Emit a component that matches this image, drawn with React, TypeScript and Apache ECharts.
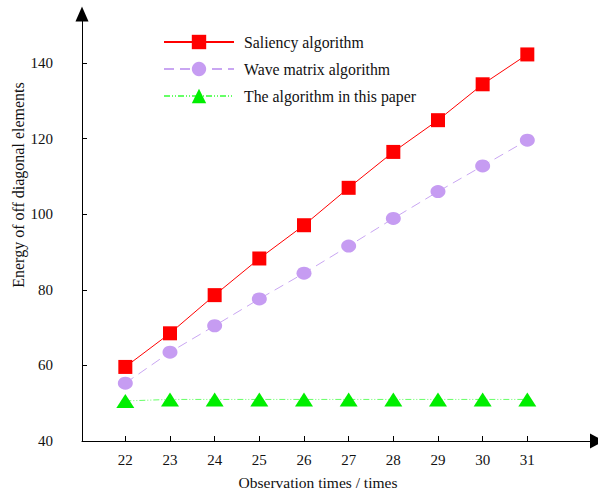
import React, { useEffect, useRef } from "react";
import * as echarts from "echarts";

const categories = [22, 23, 24, 25, 26, 27, 28, 29, 30, 31];
const saliency = [59.6, 68.5, 78.6, 88.3, 97.1, 107.0, 116.5, 124.9, 134.4, 142.3];
const waveMatrix = [55.3, 63.5, 70.5, 77.6, 84.4, 91.6, 98.9, 106.0, 112.8, 119.6];
const thisPaper = [50.6, 51, 51, 51, 51, 51, 51, 51, 51, 51];

const FONT = "'Liberation Serif', 'Times New Roman', serif";

export default function App() {
  const ref = useRef<HTMLDivElement>(null);
  useEffect(() => {
    if (!ref.current) return;
    const chart = echarts.init(ref.current, null, { renderer: "svg" });
    const pair = (arr: number[]) => categories.map((c, i) => [c, arr[i]]);
    chart.setOption({
      animation: false,
      backgroundColor: "#ffffff",
      textStyle: { fontFamily: FONT },
      grid: { left: 82, right: 1, top: 14, bottom: 49, containLabel: false, outerBoundsMode: "none" },
      legend: {
        orient: "vertical",
        left: 163,
        top: 34,
        padding: 0,
        itemWidth: 70,
        itemHeight: 18,
        itemGap: 11,
        textStyle: { fontFamily: FONT, fontSize: 15.8, color: "#111", padding: [0, 0, 0, 5] },
        data: ["Saliency algorithm", "Wave matrix algorithm", "The algorithm in this paper"],
      },
      xAxis: {
        type: "value",
        min: 21.03,
        max: 32.56,
        splitLine: { show: false },
        axisLine: {
          show: true,
          lineStyle: { color: "#000", width: 1 },
          symbol: ["none", "triangle"],
          symbolSize: [15, 14],
        },
        axisTick: { show: true, inside: true, length: 5, customValues: categories, lineStyle: { color: "#000" } },
        axisLabel: {
          customValues: categories,
          margin: 11,
          fontFamily: FONT,
          fontSize: 15,
          color: "#111",
        },
      },
      yAxis: {
        type: "value",
        min: 40,
        max: 153,
        interval: 20,
        splitLine: { show: false },
        axisLine: {
          show: true,
          lineStyle: { color: "#000", width: 1 },
          symbol: ["none", "triangle"],
          symbolSize: [13, 15],
        },
        axisTick: { show: true, inside: true, length: 5, lineStyle: { color: "#000" } },
        axisLabel: {
          margin: 29,
          showMaxLabel: false,
          formatter: (v: number) => (v % 20 === 0 ? String(v) : ""),
          fontFamily: FONT,
          fontSize: 15,
          color: "#111",
        },
      },
      graphic: [
        {
          type: "text",
          x: 18,
          y: 185,
          rotation: Math.PI / 2,
          style: {
            text: "Energy of off diagonal elements",
            fontFamily: FONT,
            fontSize: 16,
            fill: "#111",
            align: "center",
            verticalAlign: "middle",
          },
        },
        {
          type: "text",
          x: 318,
          y: 482,
          style: {
            text: "Observation times / times",
            fontFamily: FONT,
            fontSize: 15.5,
            fill: "#111",
            align: "center",
            verticalAlign: "middle",
          },
        },
      ],
      series: [
        {
          name: "The algorithm in this paper",
          type: "line",
          data: pair(thisPaper),
          symbol: "triangle",
          symbolSize: [18, 14],
          itemStyle: { color: "#00ee00" },
          lineStyle: { color: "#66ff66", width: 1, type: [6, 2, 1, 2, 1, 2] },
          z: 2,
        },
        {
          name: "Wave matrix algorithm",
          type: "line",
          data: pair(waveMatrix),
          symbol: "circle",
          symbolSize: [15, 13],
          itemStyle: { color: "#c69cf2" },
          lineStyle: { color: "#c9a6f2", width: 1, type: [10, 6] },
          z: 3,
        },
        {
          name: "Saliency algorithm",
          type: "line",
          data: pair(saliency),
          symbol: "rect",
          symbolSize: 14,
          itemStyle: { color: "#ff0000" },
          lineStyle: { color: "#ff0000", width: 1, type: "solid" },
          z: 4,
        },
      ],
    });
    return () => chart.dispose();
  }, []);
  return <div ref={ref} style={{ width: 598, height: 490, position: "absolute", left: 0, top: 0 }} />;
}
